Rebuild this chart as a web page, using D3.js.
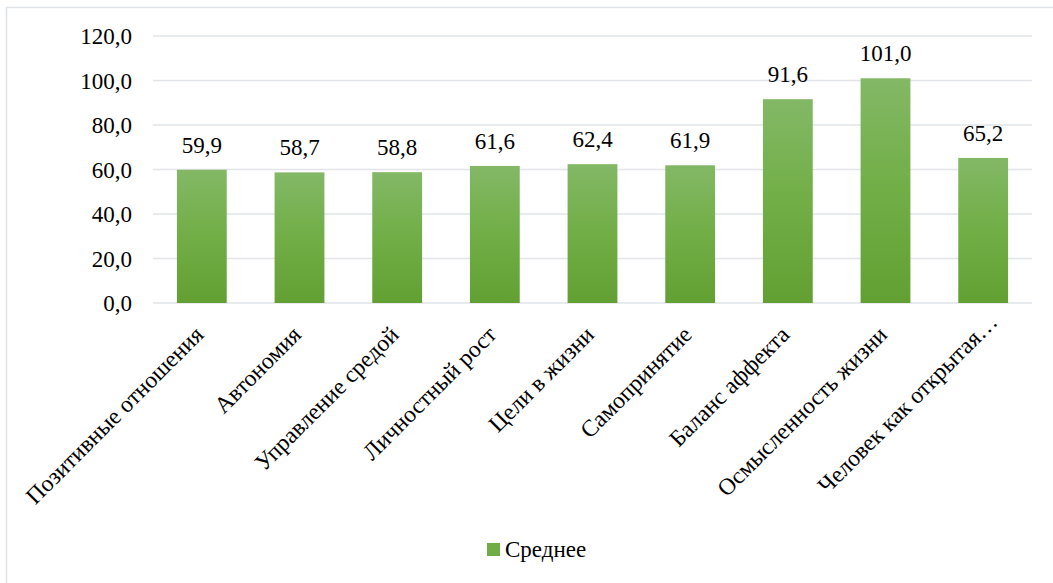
<!DOCTYPE html>
<html><head><meta charset="utf-8">
<script src="https://cdn.jsdelivr.net/npm/d3@7"></script>
<style>
html,body{margin:0;padding:0;background:#fff;}
svg{display:block;}
</style></head>
<body>
<svg id="c" width="1053" height="583"></svg>
<script>
const categories = ["Позитивные отношения","Автономия","Управление средой","Личностный рост","Цели в жизни","Самопринятие","Баланс аффекта","Осмысленность жизни","Человек как открытая…"];
const values = [59.9, 58.7, 58.8, 61.6, 62.4, 61.9, 91.6, 101.0, 65.2];
const yTicks = [0, 20, 40, 60, 80, 100, 120];
const seriesName = "Среднее";

const FONT = '"Liberation Serif"';
const svg = d3.select("#c").style("font-family", FONT);
const m = {left:153, right:1032, top:36, bottom:303};

// chart border (right/bottom fall outside the picture)
svg.append("rect").attr("x",6.5).attr("y",7.5).attr("width",1060).attr("height",600)
  .attr("fill","none").attr("stroke","#dfe2e7").attr("stroke-width",1.5);

const defs = svg.append("defs");
const g = defs.append("linearGradient").attr("id","barGrad").attr("x1",0).attr("y1",0).attr("x2",0).attr("y2",1);
g.append("stop").attr("offset","0%").attr("stop-color","#83b866");
g.append("stop").attr("offset","50%").attr("stop-color","#71ae46");
g.append("stop").attr("offset","100%").attr("stop-color","#62a033");

const x = d3.scaleBand().domain(categories).range([m.left, m.right]).paddingInner(0.49).paddingOuter(0.245);
const y = d3.scaleLinear().domain([0,120]).range([m.bottom, m.top]);
const fmt = v => d3.format(".1f")(v).replace(".", ",");

// gridlines
svg.append("g").selectAll("line").data(yTicks).join("line")
  .attr("x1", m.left).attr("x2", m.right)
  .attr("y1", d=>y(d)).attr("y2", d=>y(d))
  .attr("stroke","#e1e4e9").attr("stroke-width",1.5);

// y axis labels
const yAxis = d3.axisLeft(y).tickValues(yTicks).tickFormat(fmt).tickSize(0).tickPadding(21);
const ya = svg.append("g").attr("transform",`translate(${m.left},0)`).call(yAxis);
ya.attr("font-family", null).style("font-family", FONT);
ya.select(".domain").remove();
ya.selectAll("text").style("font-family",FONT).style("font-size","23px").attr("fill","#000").attr("dy","0.34em");

// bars
svg.append("g").selectAll("rect").data(values).join("rect")
  .attr("x",(d,i)=>x(categories[i])).attr("width",x.bandwidth())
  .attr("y",d=>y(d)).attr("height",d=>y(0)-y(d))
  .attr("fill","url(#barGrad)");

// value labels
svg.append("g").selectAll("text").data(values).join("text")
  .attr("x",(d,i)=>x(categories[i])+x.bandwidth()/2).attr("y",d=>y(d)-17)
  .attr("text-anchor","middle").style("font-family",FONT).style("font-size","23px").attr("fill","#000").text(d=>fmt(d));

// x axis labels
const xAxis = d3.axisBottom(x).tickSize(0).tickPadding(0);
const xa = svg.append("g").attr("transform",`translate(0,${m.bottom})`).call(xAxis);
xa.attr("font-family", null).style("font-family", FONT);
xa.select(".domain").remove();
xa.selectAll("text").style("font-family",FONT).style("font-size","23.5px").attr("fill","#000")
  .attr("text-anchor","end").attr("dy",0).attr("y",0)
  .attr("dx", d => d.endsWith("…") ? 18 : 0)
  .attr("transform","translate(3,33) rotate(-45)");

// legend
const lg = svg.append("g");
lg.append("rect").attr("x",487).attr("y",543).attr("width",13).attr("height",13).attr("fill","#70ad47");
lg.append("text").attr("x",505).attr("y",557).style("font-family",FONT).style("font-size","23px").attr("fill","#000").text(seriesName);
</script>
</body></html>
